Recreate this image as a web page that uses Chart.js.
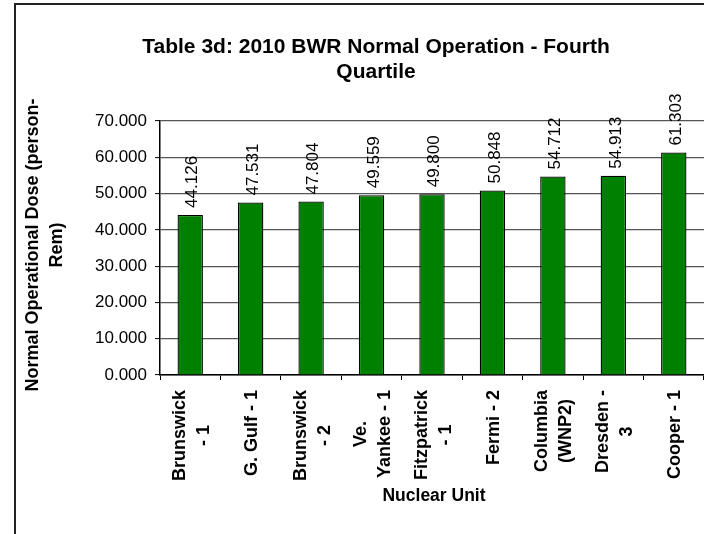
<!DOCTYPE html>
<html>
<head>
<meta charset="utf-8">
<script src="https://cdn.jsdelivr.net/npm/chart.js@4/dist/chart.umd.min.js"></script>
<style>
  html, body { margin: 0; padding: 0; background: #fff; }
  #wrap { width: 704px; height: 534px; position: relative; }
</style>
</head>
<body>
<div id="wrap"><canvas id="c" width="704" height="534"></canvas></div>
<script>
const titleLines = ["Table 3d: 2010 BWR Normal Operation - Fourth", "Quartile"];
const yTitleLines = ["Normal Operational Dose (person-", "Rem)"];
const xTitle = "Nuclear Unit";
const categories = [
  ["Brunswick", "- 1"],
  ["G. Gulf - 1"],
  ["Brunswick", "- 2"],
  ["Ve.", "Yankee - 1"],
  ["Fitzpatrick", "- 1"],
  ["Fermi - 2"],
  ["Columbia", "(WNP2)"],
  ["Dresden -", "3"],
  ["Cooper - 1"]
];
const doseValues = [44.126, 47.531, 47.804, 49.559, 49.800, 50.848, 54.712, 54.913, 61.303];
const yMin = 0, yMax = 70, yStep = 10;

const FONT = "Arial, 'Liberation Sans', sans-serif";

const decorPlugin = {
  id: 'decor',
  afterDraw(chart) {
    const ctx = chart.ctx;
    const ca = chart.chartArea;
    ctx.save();
    // outer border
    ctx.strokeStyle = '#222';
    ctx.lineWidth = 2;
    ctx.strokeRect(15, 4, 900, 700);

    ctx.fillStyle = '#000';
    // main title
    ctx.font = "bold 21px " + FONT;
    ctx.textAlign = 'center';
    ctx.textBaseline = 'alphabetic';
    ctx.fillText(titleLines[0], 376, 53);
    ctx.fillText(titleLines[1], 376, 78);

    // y title
    ctx.font = "bold 18px " + FONT;
    const yc = (ca.top + ca.bottom) / 2 - 3;
    yTitleLines.forEach((t, i) => {
      ctx.save();
      ctx.translate(38 + i * 24, yc);
      ctx.rotate(-Math.PI / 2);
      ctx.textAlign = 'center';
      ctx.fillText(t, 0, 0);
      ctx.restore();
    });

    // x title
    ctx.font = "bold 17.5px " + FONT;
    ctx.textAlign = 'center';
    ctx.fillText(xTitle, (ca.left + ca.right) / 2 + 2, 501);

    // x category labels
    const xs = chart.scales.x;
    ctx.font = "bold 18px " + FONT;
    categories.forEach((lines, idx) => {
      const cx = xs.getPixelForValue(idx);
      let maxW = 0;
      lines.forEach(l => { maxW = Math.max(maxW, ctx.measureText(l).width); });
      const cy = ca.bottom + 15 + maxW / 2;
      const n = lines.length;
      lines.forEach((l, i) => {
        const lineCenter = cx + (i - (n - 1) / 2) * 24;
        ctx.save();
        ctx.translate(lineCenter + 6.5, cy);
        ctx.rotate(-Math.PI / 2);
        ctx.textAlign = 'center';
        ctx.textBaseline = 'alphabetic';
        ctx.fillText(l, 0, 0);
        ctx.restore();
      });
    });

    // data labels
    const meta = chart.getDatasetMeta(0);
    ctx.font = "17px " + FONT;
    meta.data.forEach((bar, i) => {
      ctx.save();
      ctx.translate(bar.x + 2.5, bar.y - 7);
      ctx.rotate(-Math.PI / 2);
      ctx.textAlign = 'left';
      ctx.textBaseline = 'middle';
      ctx.fillText(doseValues[i].toFixed(3), 0, 0);
      ctx.restore();
    });
    ctx.restore();
  }
};

new Chart(document.getElementById('c'), {
  type: 'bar',
  data: {
    labels: categories,
    datasets: [{
      data: doseValues,
      backgroundColor: '#008000',
      borderColor: '#000',
      borderWidth: 1.3,
      barPercentage: 0.42,
      categoryPercentage: 1.0
    }]
  },
  options: {
    responsive: false,
    animation: false,
    devicePixelRatio: 1,
    layout: { padding: { top: 121, left: 0, right: 0, bottom: 0 } },
    plugins: {
      legend: { display: false },
      title: { display: false },
      tooltip: { enabled: false }
    },
    scales: {
      x: {
        offset: true,
        grid: {
          offset: true,
          drawOnChartArea: false,
          drawTicks: true,
          tickLength: 5,
          tickColor: '#000',
          tickWidth: 1
        },
        border: { color: '#000', width: 1.5 },
        ticks: { display: false },
        afterFit: (s) => { s.height = 159; }
      },
      y: {
        min: yMin,
        max: yMax,
        ticks: {
          stepSize: yStep,
          color: '#000',
          font: { family: FONT, size: 17 },
          padding: 8,
          callback: (v) => Number(v).toFixed(3)
        },
        grid: {
          color: '#555',
          lineWidth: 1.2,
          tickLength: 5,
          tickColor: '#000',
          tickWidth: 1
        },
        border: { color: '#000', width: 1.5 },
        afterFit: (s) => { s.width = 160; }
      }
    }
  },
  plugins: [decorPlugin]
});
</script>
</body>
</html>
